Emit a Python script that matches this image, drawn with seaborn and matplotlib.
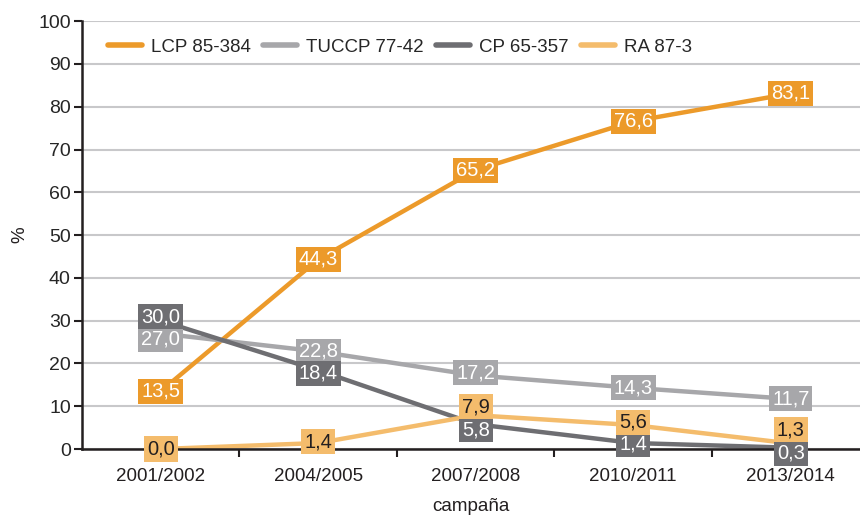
import pandas as pd
import matplotlib.pyplot as plt
import seaborn as sns
from matplotlib.ticker import FixedLocator

campaigns = ['2001/2002', '2004/2005', '2007/2008', '2010/2011', '2013/2014']
lcp = [13.5, 44.3, 65.2, 76.6, 83.1]
tuccp = [27.0, 22.8, 17.2, 14.3, 11.7]
cp = [30.0, 18.4, 5.8, 1.4, 0.3]
ra = [0.0, 1.4, 7.9, 5.6, 1.3]

names = ['LCP 85-384', 'TUCCP 77-42', 'CP 65-357', 'RA 87-3']
colors = ['#EC9A2A', '#A7A7AA', '#6E6E72', '#F4BC6C']
text_colors = ['white', 'white', 'white', '#231F20']

# vertical label nudges (points) so boxes don't overlap
nudges = {
    'LCP 85-384': [0, 0, 0, 0, 0],
    'TUCCP 77-42': [-4, 0, 2, 0, 0],
    'CP 65-357': [3, -2, -4, -1, -4],
    'RA 87-3': [0, 1, 6, 2, 10],
}

sns.set_style('white')
plt.rcParams['font.family'] = ['Liberation Sans', 'DejaVu Sans']

df = pd.DataFrame({'campaña': campaigns * 4,
                   'pct': lcp + tuccp + cp + ra,
                   'var': [n for n in names for _ in campaigns]})
df['x'] = df.groupby('var').cumcount()

fig = plt.figure(figsize=(8.6, 5.17), dpi=100)
ax = fig.add_axes([0.0953, 0.1315, 0.9047, 0.8275])

sns.lineplot(data=df, x='x', y='pct', hue='var', palette=dict(zip(names, colors)),
             linewidth=3.2, ax=ax, sort=False, zorder=3)

for name, col, tc in zip(names, colors, text_colors):
    sub = df[df['var'] == name]
    for (i, row), dy in zip(sub.iterrows(), nudges[name]):
        ax.annotate(f"{row['pct']:.1f}".replace('.', ','), (row['x'], row['pct']),
                    xytext=(0, dy), textcoords='offset points',
                    ha='center', va='center', fontsize=14.5, color=tc, zorder=10,
                    annotation_clip=False,
                    bbox=dict(boxstyle='square,pad=0.15', fc=col, ec='none'))

ax.set_ylim(0, 100)
ax.set_yticks(range(0, 101, 10))
ax.set_xlim(-0.5, 4.44)
ax.set_xticks(range(5))
ax.set_xticklabels(campaigns)
ax.xaxis.set_minor_locator(FixedLocator([0.5, 1.5, 2.5, 3.5]))
ax.tick_params(axis='x', which='major', bottom=False, length=0, pad=14, labelsize=13.5, colors='#231F20')
ax.tick_params(axis='x', which='minor', bottom=True, length=6, width=1.5, color='#231F20', direction='out')
ax.tick_params(axis='y', left=True, length=6, width=1.5, color='#231F20', labelsize=14, pad=2)
ax.yaxis.grid(True, color='#C8C8CA', linewidth=1.5, zorder=0)
ax.set_axisbelow(True)
for s in ['top', 'right']:
    ax.spines[s].set_visible(False)
for s in ['left', 'bottom']:
    ax.spines[s].set_color('#231F20')
    ax.spines[s].set_linewidth(1.8)
    ax.spines[s].set_zorder(4)

ax.set_xlabel('campaña', fontsize=13.5, color='#231F20', labelpad=9)
ax.set_ylabel('%', fontsize=13.5, color='#231F20', labelpad=7)

ax.legend(loc='upper left', bbox_to_anchor=(0.012, 0.998), ncol=4, frameon=False,
          fontsize=13.5, handlelength=1.8, columnspacing=0.65, handletextpad=0.5)
for line in ax.get_legend().get_lines():
    line.set_linewidth(4)

fig.savefig('out.png', dpi=100)
